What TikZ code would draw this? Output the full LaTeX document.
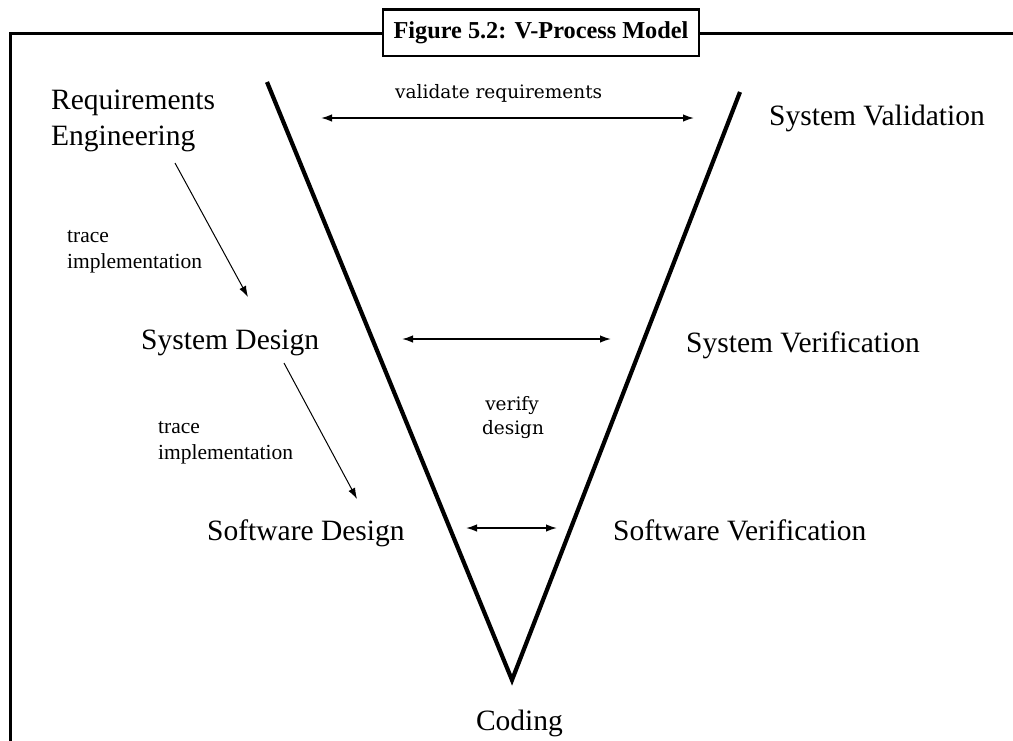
\documentclass[tikz,border=0pt]{standalone}
\usepackage{fontspec}
\setmainfont{Liberation Serif}
\newfontfamily\labelfont{DejaVu Serif}
\usepackage{tikz}
\usetikzlibrary{arrows.meta}

\begin{document}
\begin{tikzpicture}[x=1pt, y=-1pt,
        big/.style={inner sep=0pt, font=\fontsize{29.5}{34}\selectfont},
        trace/.style={inner sep=0pt, font=\fontsize{21.5}{26}\selectfont},
        thinlabel/.style={inner sep=0pt, font=\labelfont\fontsize{18.5}{22}\selectfont},
        both/.style={line width=1.6pt, {Latex[length=11pt,width=7.5pt]}-{Latex[length=11pt,width=7.5pt]}},
        down/.style={line width=1pt, -{Latex[length=11pt,width=7.5pt]}}]
        \useasboundingbox (0,0) rectangle (1013,740);
        \fill[white] (0,0) rectangle (1013,740);

        % frame and caption
        \draw[line width=3pt] (10,745) -- (10,33.5) -- (1020,33.5);
        \node[draw, fill=white, line width=2.5pt, minimum width=316pt, minimum height=46.5pt,
            font=\bfseries\fontsize{24.3}{28}\selectfont] (title) at (541,32.7) {Figure 5.2: V-Process Model};

        % the V
        \coordinate (vl) at (267,82);
        \coordinate (vb) at (512,680);
        \coordinate (vr) at (740,92);
        \draw[line width=4.2pt, line join=miter] (vl) -- (vb) -- (vr);

        % left side
        \node[big, anchor=base west] (req) at (51,109) {Requirements};
        \node[big, anchor=base west] (eng) at (51,145) {Engineering};
        \node[trace, anchor=base west] (tra) at (67,242) {trace};
        \node[trace, anchor=base west] (impa) at (67,268) {implementation};
        \node[big, anchor=base west] (sysd) at (141,349) {System Design};
        \node[trace, anchor=base west] (trb) at (158,433) {trace};
        \node[trace, anchor=base west] (impb) at (158,459) {implementation};
        \node[big, anchor=base west] (swd) at (207,540) {Software Design};
        \node[big, anchor=base] (cod) at (519.5,730) {Coding};

        % right side
        \node[big, anchor=base west] (sysval) at (769,125) {System Validation};
        \node[big, anchor=base west] (sysver) at (686,352) {System Verification};
        \node[big, anchor=base west] (swv) at (613,540) {Software Verification};

        % middle
        \node[thinlabel, anchor=base west] (val) at (395,98) {validate requirements};
        \node[thinlabel, anchor=base] (ver) at (512,410) {verify};
        \node[thinlabel, anchor=base] (des) at (513,434) {design};

        \coordinate (a1) at (175,163);
        \coordinate (b1) at (248,297);
        \coordinate (a2) at (284,363);
        \coordinate (b2) at (357,499);
        \draw[down] (a1) -- (b1);
        \draw[down] (a2) -- (b2);

        \coordinate (p1) at (321,118);
        \coordinate (q1) at (694,118);
        \coordinate (p2) at (402,339);
        \coordinate (q2) at (611,339);
        \coordinate (p3) at (466,528);
        \coordinate (q3) at (557,528);
        \draw[both] (p1) -- (q1);
        \draw[both] (p2) -- (q2);
        \draw[both] (p3) -- (q3);
\end{tikzpicture}
\end{document}
